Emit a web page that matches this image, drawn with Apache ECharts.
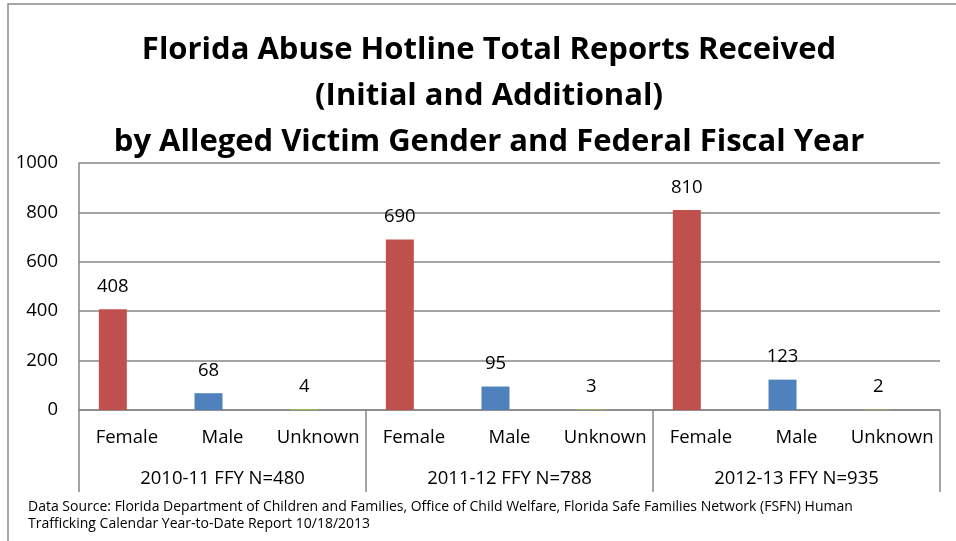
<!DOCTYPE html>
<html>
<head>
<meta charset="utf-8">
<script src="https://cdn.jsdelivr.net/npm/echarts@6/dist/echarts.min.js"></script>
<style>
  html, body { margin: 0; padding: 0; background: #fff; }
  #main { width: 956px; height: 541px; }
</style>
</head>
<body>
<div id="main"></div>
<script>
// data
const years = ['2010-11 FFY N=480', '2011-12 FFY N=788', '2012-13 FFY N=935']
const genders = ['Female', 'Male', 'Unknown']
const femaleValues = [408, 690, 810]
const maleValues = [68, 95, 123]
const unknownValues = [4, 3, 2]
const yTicks = [0, 200, 400, 600, 800, 1000]

const genderColors = ['#C0504D', '#4F81BD', '#9BBB59']
const font = 'Open Sans'
const fs = 18.5

const chart = echarts.init(document.getElementById('main'))

// flatten to 9 categories: year x gender
const cats = []
const barData = []
years.forEach((y, i) => {
  const vals = [femaleValues[i], maleValues[i], unknownValues[i]]
  genders.forEach((g, j) => {
    cats.push(g)
    barData.push({ value: vals[j], itemStyle: { color: genderColors[j] } })
  })
})

chart.setOption({
  animation: false,
  textStyle: { fontFamily: font },
  title: [{
    text: 'Data Source: Florida Department of Children and Families, Office of Child Welfare, Florida Safe Families Network (FSFN) Human\nTrafficking Calendar Year-to-Date Report 10/18/2013',
    left: 23,
    top: 494,
    textStyle: { fontFamily: font, fontSize: 14, fontWeight: 'normal', color: '#000', lineHeight: 17 }
  }],
  graphic: [{
    type: 'rect',
    shape: { x: 8, y: 4, width: 960, height: 560 },
    style: { fill: null, stroke: '#8c8c8c', lineWidth: 1.5 },
    silent: true
  }, {
    // main title, centred a little right of the canvas middle like the original
    type: 'text',
    x: 489,
    y: 27,
    silent: true,
    style: {
      text: 'Florida Abuse Hotline Total Reports Received\n(Initial and Additional)\nby Alleged Victim Gender and Federal Fiscal Year',
      align: 'center',
      verticalAlign: 'top',
      fontFamily: font,
      fontSize: 31,
      fontWeight: 'bold',
      lineHeight: 46,
      fill: '#000'
    }
  }],
  grid: { left: 79, right: 16, top: 163, bottom: 131 },
  xAxis: [{
    type: 'category',
    data: cats,
    axisLine: { lineStyle: { color: '#868686', width: 1.5 } },
    axisTick: { show: false },
    axisLabel: { interval: 0, margin: 18, fontSize: fs, color: '#000', fontFamily: font }
  }, {
    type: 'category',
    data: years,
    position: 'bottom',
    axisLine: { show: false },
    axisTick: { show: true, interval: 0, length: 82, lineStyle: { color: '#868686', width: 1.5 } },
    axisLabel: { interval: 0, margin: 59, fontSize: fs, color: '#000', fontFamily: font }
  }],
  yAxis: {
    type: 'value',
    min: 0,
    max: yTicks[yTicks.length - 1],
    interval: yTicks[1] - yTicks[0],
    axisLine: { show: true, lineStyle: { color: '#868686', width: 1.5 } },
    axisTick: { show: false },
    splitLine: { lineStyle: { color: '#868686', width: 1.5 } },
    axisLabel: { margin: 21, fontSize: fs, color: '#000', fontFamily: font, formatter: v => String(v) }
  },
  series: [{
    type: 'bar',
    data: barData,
    barWidth: 28,
    barGap: '0%',
    label: { show: true, position: 'top', distance: 13, fontSize: fs, color: '#000', fontFamily: font }
  }, {
    // empty second slot of each cluster, keeps bars left of centre like the original
    type: 'bar',
    data: cats.map(() => null),
    barWidth: 28
  }]
})
</script>
</body>
</html>
